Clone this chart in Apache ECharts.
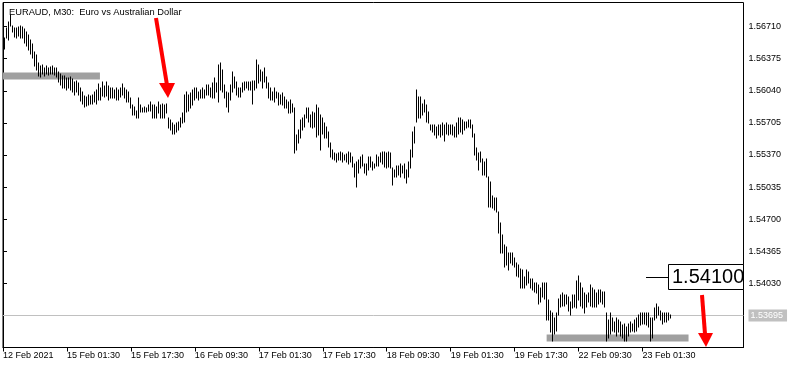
<!DOCTYPE html>
<html><head><meta charset="utf-8">
<script src="https://cdn.jsdelivr.net/npm/echarts@6/dist/echarts.min.js"></script>
<style>html,body{margin:0;padding:0;background:#fff}#c{width:796px;height:368px}</style>
</head><body><div id="c"></div>
<script>
// ---- data (EURAUD M30 bars: high / low per bar, bar index starts at firstBar) ----
const firstBar = 1;
const highs = [
1.56586,1.56690,1.56753,1.56826,1.56711,1.56690,1.56690,1.56701,1.56721,1.56701,
1.56680,1.56648,1.56617,1.56565,1.56523,1.56440,1.56408,1.56325,1.56294,1.56304,
1.56273,1.56294,1.56273,1.56283,1.56294,1.56273,1.56273,1.56231,1.56210,1.56189,
1.56189,1.56168,1.56168,1.56179,1.56158,1.56127,1.56147,1.56116,1.56064,1.56022,
1.55981,1.55970,1.55991,1.55981,1.56001,1.56022,1.56043,1.56106,1.56064,1.56127,
1.56085,1.56127,1.56085,1.56074,1.56064,1.56043,1.56064,1.56043,1.56074,1.56106,
1.56064,1.56043,1.56022,1.55960,1.55887,1.55866,1.55834,1.55960,1.55887,1.55855,
1.55866,1.55855,1.55887,1.55918,1.55887,1.55887,1.55866,1.55918,1.55887,1.55907,
1.55887,1.55907,1.55761,1.55730,1.55699,1.55678,1.55699,1.55709,1.55751,1.55803,
1.55991,1.56022,1.55991,1.56012,1.56043,1.56064,1.56064,1.56022,1.56043,1.56064,
1.56043,1.56095,1.56095,1.56074,1.56116,1.56168,1.56116,1.56304,1.56325,1.56252,
1.56095,1.56022,1.56012,1.56095,1.56231,1.56179,1.56127,1.56064,1.56074,1.56116,
1.56127,1.56127,1.56127,1.56127,1.56147,1.56147,1.56356,1.56304,1.56252,1.56231,
1.56273,1.56179,1.56116,1.56064,1.56022,1.56074,1.56022,1.56012,1.55991,1.56012,
1.55970,1.55939,1.55918,1.55939,1.55907,1.55855,1.55574,1.55626,1.55730,1.55761,
1.55782,1.55855,1.55855,1.55782,1.55814,1.55803,1.55887,1.55855,1.55782,1.55751,
1.55699,1.55657,1.55605,1.55500,1.55417,1.55386,1.55375,1.55386,1.55396,1.55386,
1.55365,1.55375,1.55396,1.55386,1.55344,1.55281,1.55292,1.55313,1.55344,1.55365,
1.55281,1.55281,1.55344,1.55344,1.55292,1.55281,1.55365,1.55344,1.55386,1.55396,
1.55396,1.55386,1.55396,1.55386,1.55229,1.55208,1.55260,1.55260,1.55281,1.55260,
1.55281,1.55208,1.55292,1.55417,1.55605,1.55657,1.56043,1.55970,1.55970,1.55907,
1.55939,1.55887,1.55814,1.55678,1.55678,1.55678,1.55657,1.55678,1.55678,1.55699,
1.55678,1.55699,1.55678,1.55678,1.55678,1.55657,1.55699,1.55751,1.55751,1.55730,
1.55709,1.55709,1.55730,1.55730,1.55678,1.55594,1.55438,1.55386,1.55396,1.55333,
1.55292,1.55333,1.55135,1.55083,1.54947,1.54926,1.54916,1.54770,1.54655,1.54530,
1.54426,1.54405,1.54352,1.54352,1.54342,1.54300,1.54238,1.54217,1.54185,1.54165,
1.54092,1.54165,1.54144,1.54081,1.54081,1.54039,1.54029,1.54008,1.53987,1.54029,
1.54039,1.54029,1.53852,1.53747,1.53726,1.53674,1.53726,1.53872,1.53904,1.53925,
1.53904,1.53914,1.53883,1.53831,1.53904,1.53904,1.54060,1.54102,1.54029,1.53977,
1.53925,1.53904,1.53925,1.54008,1.53987,1.53956,1.53925,1.53956,1.53956,1.53935,
1.53935,1.53726,1.53643,1.53716,1.53664,1.53622,1.53674,1.53643,1.53622,1.53591,
1.53611,1.53570,1.53611,1.53622,1.53611,1.53643,1.53664,1.53695,1.53726,1.53726,
1.53726,1.53726,1.53726,1.53674,1.53674,1.53768,1.53820,1.53779,1.53747,1.53716,
1.53726,1.53716,1.53716,1.53695
];
const lows = [
1.56481,1.56586,1.56565,1.56711,1.56648,1.56596,1.56586,1.56607,1.56586,1.56586,
1.56534,1.56502,1.56461,1.56419,1.56377,1.56294,1.56252,1.56189,1.56179,1.56210,
1.56189,1.56210,1.56200,1.56220,1.56210,1.56200,1.56179,1.56127,1.56095,1.56064,
1.56074,1.56043,1.56064,1.56043,1.56022,1.56001,1.56022,1.55991,1.55928,1.55897,
1.55866,1.55876,1.55887,1.55897,1.55897,1.55918,1.55897,1.55939,1.55939,1.55981,
1.55970,1.55981,1.55939,1.55960,1.55960,1.55960,1.55939,1.55939,1.55970,1.55991,
1.55960,1.55918,1.55918,1.55855,1.55782,1.55782,1.55751,1.55761,1.55814,1.55814,
1.55814,1.55814,1.55834,1.55834,1.55761,1.55751,1.55761,1.55803,1.55751,1.55751,
1.55761,1.55803,1.55647,1.55626,1.55594,1.55594,1.55605,1.55626,1.55657,1.55699,
1.55709,1.55814,1.55834,1.55855,1.55887,1.55939,1.55960,1.55939,1.55960,1.55960,
1.55960,1.55991,1.55991,1.55970,1.55960,1.55960,1.56022,1.55918,1.56043,1.56022,
1.55960,1.55866,1.55814,1.55939,1.56022,1.56064,1.55991,1.55970,1.55970,1.56022,
1.56043,1.56064,1.56043,1.56043,1.55907,1.56043,1.56074,1.56116,1.56147,1.56074,
1.56127,1.56064,1.55960,1.55939,1.55939,1.55918,1.55960,1.55887,1.55907,1.55887,
1.55855,1.55855,1.55803,1.55803,1.55814,1.55386,1.55417,1.55490,1.55542,1.55626,
1.55657,1.55751,1.55709,1.55657,1.55647,1.55657,1.55553,1.55574,1.55417,1.55594,
1.55542,1.55542,1.55448,1.55344,1.55333,1.55313,1.55292,1.55313,1.55313,1.55292,
1.55313,1.55292,1.55281,1.55292,1.55240,1.55135,1.55031,1.55177,1.55229,1.55260,
1.55187,1.55156,1.55208,1.55240,1.55208,1.55229,1.55260,1.55260,1.55292,1.55281,
1.55240,1.55229,1.55240,1.55229,1.55052,1.55135,1.55135,1.55156,1.55135,1.55177,
1.55125,1.55073,1.55135,1.55229,1.55344,1.55500,1.55709,1.55751,1.55751,1.55782,
1.55814,1.55709,1.55699,1.55626,1.55605,1.55574,1.55542,1.55574,1.55553,1.55574,
1.55521,1.55594,1.55574,1.55594,1.55574,1.55553,1.55553,1.55594,1.55605,1.55594,
1.55626,1.55647,1.55657,1.55647,1.55553,1.55365,1.55313,1.55208,1.55292,1.55156,
1.55156,1.55135,1.54822,1.54822,1.54812,1.54791,1.54770,1.54551,1.54342,1.54342,
1.54196,1.54217,1.54165,1.54238,1.54217,1.54196,1.54112,1.54092,1.53987,1.53987,
1.53987,1.54008,1.54029,1.53987,1.53956,1.53935,1.53925,1.53820,1.53831,1.53883,
1.53872,1.53643,1.53643,1.53518,1.53434,1.53507,1.53538,1.53695,1.53779,1.53799,
1.53799,1.53820,1.53747,1.53695,1.53768,1.53779,1.53768,1.53852,1.53799,1.53768,
1.53726,1.53779,1.53831,1.53799,1.53779,1.53779,1.53779,1.53820,1.53831,1.53820,
1.53779,1.53434,1.53455,1.53507,1.53538,1.53518,1.53486,1.53518,1.53486,1.53455,
1.53434,1.53434,1.53486,1.53518,1.53538,1.53518,1.53538,1.53570,1.53591,1.53611,
1.53611,1.53591,1.53570,1.53434,1.53465,1.53643,1.53674,1.53695,1.53643,1.53611,
1.53622,1.53622,1.53643,1.53664
];
const xTickValues = [0,32,64,96,128,160,192,224,256,288,320];
const xTickLabels = ['12 Feb 2021','15 Feb 01:30','15 Feb 17:30','16 Feb 09:30','17 Feb 01:30','17 Feb 17:30','18 Feb 09:30','19 Feb 01:30','19 Feb 17:30','22 Feb 09:30','23 Feb 01:30'];
const yTickValues = [1.56710,1.56375,1.56040,1.55705,1.55370,1.55035,1.54700,1.54365,1.54030,1.53695];
const bidPrice = 1.53695;
const alertPrice = 1.54100;
const zoneStart = [0, 272];
const zoneEnd = [48.5, 343];
const zoneLow = [1.56158, 1.53424];
const zoneHigh = [1.56231, 1.53497];
const titleText = 'EURAUD, M30:  Euro vs Australian Dollar';

const FONT = 'Liberation Sans';
const bars = highs.map((h, k) => [k + firstBar, lows[k], h]);

const chart = echarts.init(document.getElementById('c'), null, {renderer: 'canvas'});

function renderBar(params, api) {
  const x = api.value(0);
  const pL = api.coord([x, api.value(1)]);
  const pH = api.coord([x, api.value(2)]);
  const px = Math.floor(pL[0]) + 0.5;
  return {
    type: 'line',
    shape: {x1: px, y1: Math.round(pL[1]) + 0.5, x2: px, y2: Math.round(pH[1]) - 0.5},
    style: {stroke: '#000', lineWidth: 1}
  };
}

chart.setOption({
  animation: false,
  backgroundColor: '#fff',
  title: {
    text: titleText, left: 4, top: 3,
    textStyle: {fontFamily: FONT, fontSize: 9.3, fontWeight: 'normal', color: '#000'}
  },
  grid: {left: 2.5, right: 52.5, top: 2.5, bottom: 20.5, show: true, borderColor: '#000', borderWidth: 1, backgroundColor: 'transparent'},
  xAxis: {
    type: 'value', min: 0, max: 370.5,
    splitLine: {show: false},
    axisLine: {show: true, onZero: false, lineStyle: {color: '#000', width: 1}},
    axisTick: {show: true, length: 4, customValues: xTickValues, lineStyle: {color: '#000'}},
    axisLabel: {
      customValues: xTickValues, align: 'left', margin: 4,
      fontFamily: FONT, fontSize: 9, color: '#000',
      formatter: v => { const k = xTickValues.indexOf(v); return k >= 0 ? xTickLabels[k] : ''; }
    }
  },
  yAxis: {
    type: 'value', position: 'right', min: 1.53361, max: 1.56961, scale: true,
    splitLine: {show: false},
    axisLine: {show: true, lineStyle: {color: '#000', width: 1}},
    axisTick: {show: true, length: 4, customValues: yTickValues, lineStyle: {color: '#000'}},
    axisLabel: {
      customValues: yTickValues, margin: 5,
      fontFamily: FONT, fontSize: 9, color: '#000',
      formatter: v => Math.abs(v - bidPrice) < 1e-7 ? '{cur|' + v.toFixed(5) + '}' : v.toFixed(5),
      rich: {cur: {backgroundColor: '#c0c0c0', color: '#fff', fontFamily: FONT, fontSize: 9, padding: [2, 4, 1, 2]}}
    }
  },
  series: [
    {
      type: 'line', data: [], z: 1, silent: true,
      markArea: {
        silent: true,
        itemStyle: {color: '#a0a0a0', opacity: 1},
        data: zoneStart.map((s, k) => [{xAxis: s, yAxis: zoneLow[k]}, {xAxis: zoneEnd[k], yAxis: zoneHigh[k]}])
      }
    },
    {
      type: 'custom', z: 3, renderItem: renderBar, data: bars,
      encode: {x: 0, y: [1, 2]}, clip: true
    }
  ]
});

// annotations: bid line, alert price box + red arrows
const yA = Math.round(chart.convertToPixel({yAxisIndex: 0}, alertPrice)) + 0.5;
const yB = Math.round(chart.convertToPixel({yAxisIndex: 0}, bidPrice)) + 0.5;
const xL = chart.convertToPixel({xAxisIndex: 0}, 0);
const xR = chart.convertToPixel({xAxisIndex: 0}, 370.5);
chart.setOption({
  graphic: [
    {type: 'line', z: 2, silent: true, shape: {x1: xL, y1: yB, x2: xR, y2: yB}, style: {stroke: '#c0c0c0', lineWidth: 1}},
    {type: 'line', z: 100, shape: {x1: 646, y1: yA, x2: 668, y2: yA}, style: {stroke: '#000', lineWidth: 1}},
    {type: 'rect', z: 100, shape: {x: 668.5, y: yA - 13, width: 75, height: 25}, style: {fill: '#fff', stroke: '#000', lineWidth: 1}},
    {type: 'text', z: 101, x: 672, y: yA, style: {text: alertPrice.toFixed(5), font: '20px "Liberation Sans"', fill: '#000', verticalAlign: 'middle'}},
    {type: 'line', z: 100, shape: {x1: 156, y1: 18, x2: 167, y2: 85}, style: {stroke: '#ff0000', lineWidth: 4}},
    {type: 'polygon', z: 100, shape: {points: [[159, 83], [175, 83], [168, 98]]}, style: {fill: '#ff0000'}},
    {type: 'line', z: 100, shape: {x1: 702, y1: 295, x2: 705, y2: 334}, style: {stroke: '#ff0000', lineWidth: 4}},
    {type: 'polygon', z: 100, shape: {points: [[698, 333], [713, 333], [706, 347]]}, style: {fill: '#ff0000'}}
  ]
});
</script>
</body></html>
